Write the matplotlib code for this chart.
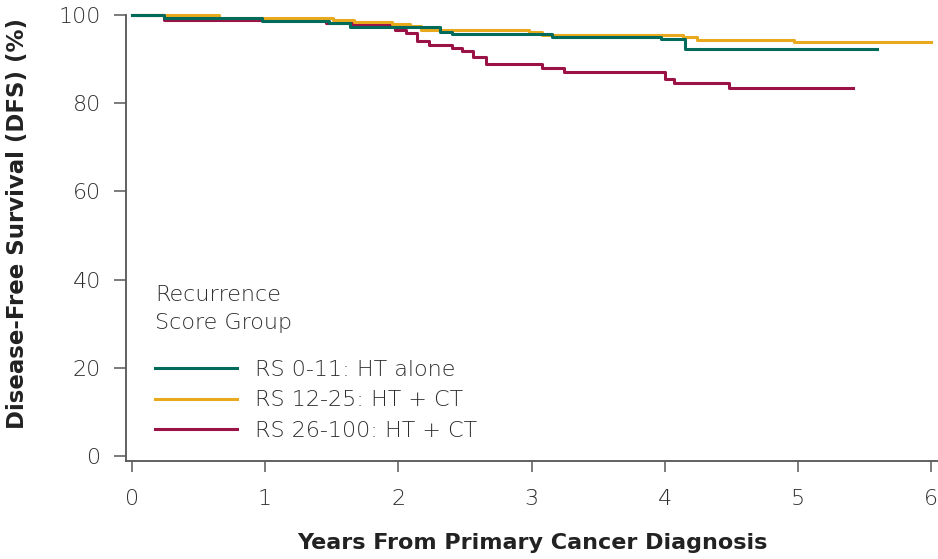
import numpy as np
import matplotlib.pyplot as plt

# Kaplan-Meier style step data (years, DFS %)
t_low = [0, 0.245, 0.98, 1.48, 1.64, 2.31, 2.40, 3.155, 3.97, 4.148, 5.59]
s_low = [100, 99.2, 98.45, 98.0, 97.1, 96.1, 95.6, 94.8, 94.4, 92.3, 92.3]

t_mid = [0, 0.655, 1.51, 1.67, 1.95, 2.09, 2.17, 2.98, 3.08, 4.0, 4.14, 4.24, 4.97, 6.0]
s_mid = [100, 99.2, 98.7, 98.2, 97.8, 97.5, 96.6, 96.1, 95.35, 95.3, 94.8, 94.3, 93.7, 93.7]

t_high = [0, 0.245, 1.46, 1.66, 1.975, 2.055, 2.14, 2.23, 2.40, 2.48, 2.56, 2.66,
          3.08, 3.24, 4.0, 4.07, 4.48, 5.41]
s_high = [100, 98.75, 98.0, 97.6, 96.6, 95.9, 94.0, 93.1, 92.5, 91.7, 90.3, 88.7,
          87.9, 87.05, 85.3, 84.4, 83.3, 83.3]

labels = ["RS 0-11: HT alone", "RS 12-25: HT + CT", "RS 26-100: HT + CT"]
colors = ["#006b5b", "#e8a91c", "#9b1246"]

plt.rcParams['font.family'] = ['DejaVu Sans']
txt_col = "#2e2e2e"

fig = plt.figure(figsize=(9.38, 5.59), dpi=100)
ax = fig.add_axes([0.1343, 0.1753, 0.8657, 0.7987])

ax.step(t_high, s_high, where='post', color=colors[2], lw=2.2, label=labels[2], zorder=3, clip_on=False)
ax.step(t_mid, s_mid, where='post', color=colors[1], lw=2.2, label=labels[1], zorder=4, clip_on=False)
ax.step(t_low, s_low, where='post', color=colors[0], lw=2.2, label=labels[0], zorder=5, clip_on=False)

ax.set_xlim(-0.043, 6.05)
ax.set_ylim(-1.1, 100)
ax.set_xticks(range(0, 7))
ax.set_yticks(range(0, 101, 20))

for s in ["top", "right"]:
    ax.spines[s].set_visible(False)
for s in ["left", "bottom"]:
    ax.spines[s].set_color("#555555")
    ax.spines[s].set_linewidth(1.3)

ax.tick_params(axis='y', length=9, width=1.2, color="#666666", pad=9,
               labelsize=16, labelcolor=txt_col)
ax.tick_params(axis='x', length=8, width=1.2, color="#666666", pad=12,
               labelsize=16, labelcolor=txt_col)
for lab in ax.get_xticklabels() + ax.get_yticklabels():
    lab.set_fontweight(200)

fig.text(0.568, 0.028, "Years From Primary Cancer Diagnosis", ha='center', va='center',
         fontsize=16, fontweight='bold', color="#222222")
fig.text(0.019, 0.60, "Disease-Free Survival (DFS) (%)", ha='center', va='center',
         rotation=90, fontsize=16.5, fontweight='bold', color="#222222")

handles, labs = ax.get_legend_handles_labels()
order = [2, 1, 0]
leg = ax.legend([handles[i] for i in order], [labs[i] for i in order],
                title="Recurrence\nScore Group", loc='lower left',
                bbox_to_anchor=(0.011, 0.0), frameon=False, fontsize=16,
                title_fontsize=16, handlelength=3.7, handletextpad=0.8,
                labelspacing=0.48, alignment='left')
for txt in leg.get_texts():
    txt.set_color(txt_col)
    txt.set_fontweight(200)
leg.get_title().set_color(txt_col)
leg.get_title().set_fontweight(200)
leg.get_title().set_linespacing(1.5)
leg._legend_box.sep = 19

fig.savefig("out.png", dpi=100)
